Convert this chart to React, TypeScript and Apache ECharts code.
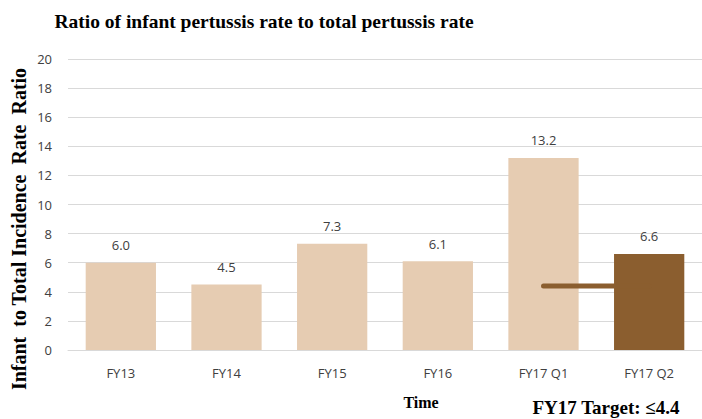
import React, { useEffect, useRef } from "react";
import * as echarts from "echarts";

const categories = ["FY13", "FY14", "FY15", "FY16", "FY17 Q1", "FY17 Q2"];
const ratios = [6.0, 4.5, 7.3, 6.1, 13.2, 6.6];
const targetLine: (number | string)[] = ["-", "-", "-", "-", 4.4, 4.4];
const yTicks = { min: 0, max: 20, interval: 2 };

const LIGHT = "#E6CCB2";
const DARK = "#8B5E2F";

export default function App() {
  const ref = useRef<HTMLDivElement>(null);
  useEffect(() => {
    if (!ref.current) return;
    const chart = echarts.init(ref.current, null, { renderer: "svg" });
    chart.setOption({
      animation: false,
      backgroundColor: "#ffffff",
      grid: { left: 68, top: 59, width: 642, height: 291, containLabel: false },
      xAxis: {
        type: "category",
        data: categories,
        axisLine: { lineStyle: { color: "#D9D9D9" } },
        axisTick: { show: false },
        axisLabel: { color: "#404040", fontFamily: "Open Sans", fontSize: 13, margin: 16 },
      },
      yAxis: {
        type: "value",
        min: yTicks.min,
        max: yTicks.max,
        interval: yTicks.interval,
        axisLine: { show: false },
        axisTick: { show: false },
        splitLine: { lineStyle: { color: "#D9D9D9" } },
        axisLabel: { color: "#404040", fontFamily: "Open Sans", fontSize: 13, margin: 16 },
      },
      series: [
        {
          type: "bar",
          data: ratios.map((v, i) => ({
            value: v,
            itemStyle: { color: i === ratios.length - 1 ? DARK : LIGHT },
          })),
          barWidth: "66.5%",
          label: {
            show: true,
            position: "top",
            distance: 11,
            color: "#404040",
            fontFamily: "Open Sans",
            fontSize: 13,
            formatter: (p: any) => Number(p.value).toFixed(1),
          },
        },
        {
          type: "line",
          data: targetLine,
          symbol: "none",
          lineStyle: { color: DARK, width: 5, cap: "round" },
          z: 3,
        },
      ],
      graphic: [
        {
          type: "text",
          x: 264,
          y: 21,
          style: {
            text: "Ratio of infant pertussis rate to total pertussis rate",
            font: "bold 19.5px 'Liberation Serif'",
            fill: "#000000",
            textAlign: "center",
            textVerticalAlign: "middle",
          },
        },
        {
          type: "text",
          x: 19,
          y: 229,
          rotation: Math.PI / 2,
          style: {
            text: "Infant  to Total Incidence  Rate  Ratio",
            font: "bold 20px 'Liberation Serif'",
            fill: "#000000",
            textAlign: "center",
            textVerticalAlign: "middle",
          },
        },
        {
          type: "text",
          x: 421,
          y: 402,
          style: {
            text: "Time",
            font: "bold 16px 'Liberation Serif'",
            fill: "#000000",
            textAlign: "center",
            textVerticalAlign: "middle",
          },
        },
        {
          type: "text",
          x: 606,
          y: 407,
          style: {
            text: "FY17 Target: \u22644.4",
            font: "bold 19px 'Liberation Serif'",
            fill: "#000000",
            textAlign: "center",
            textVerticalAlign: "middle",
          },
        },
      ],
    });
    return () => chart.dispose();
  }, []);
  return <div ref={ref} style={{ width: 702, height: 419, position: "absolute", left: 0, top: 0 }} />;
}
